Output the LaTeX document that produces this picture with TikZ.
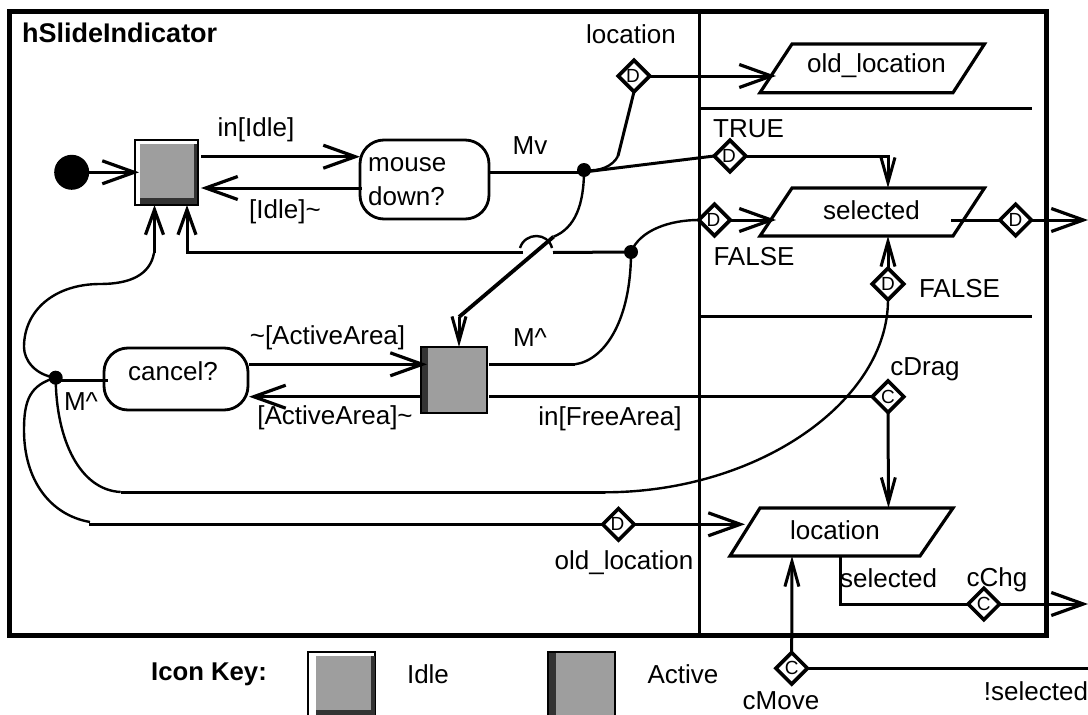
\documentclass[tikz,border=0pt]{standalone}
\usepackage{fontspec}
\setmainfont{Liberation Sans}
\usetikzlibrary{arrows.meta,shapes.geometric}
\definecolor{boxgray}{HTML}{9E9E9E}
\definecolor{boxdark}{HTML}{333333}
\tikzset{
  wire/.style={line width=3pt,line cap=butt,line join=miter},
  thin wire/.style={line width=2.4pt},
  thick wire/.style={line width=3.8pt},
  big head/.style={-{Straight Barb[length=32pt,width=23pt,line width=3.2pt]}},
  mid head/.style={-{Straight Barb[length=25pt,width=18pt,line width=3.2pt]}},
  narrow head/.style={-{Straight Barb[length=25pt,width=14pt,line width=3pt]}},
  lab/.style={inner sep=0pt,font=\fontsize{26}{30}\selectfont},
  boldlab/.style={inner sep=0pt,font=\bfseries\fontsize{25.7}{30}\selectfont},
  titlelab/.style={inner sep=0pt,font=\bfseries\fontsize{27}{30}\selectfont},
  dia/.style={diamond,draw,line width=3.6pt,fill=white,inner sep=0pt,outer sep=0pt,minimum width=31.5pt,minimum height=31.5pt,font=\fontsize{19}{20}\selectfont},
  diaD/.style={dia,text width=16pt,align=left},
  junction/.style={circle,fill=black,inner sep=0pt,minimum size=14pt},
  decision/.style={draw,line width=2.8pt,rounded corners=24pt,fill=white,inner sep=0pt,outer sep=0pt},
  statebox/.style={draw,line width=2.8pt,fill=white,inner sep=0pt,outer sep=0pt},
  para/.style={line width=3.2pt,line join=miter}
}
\begin{document}
\begin{tikzpicture}[x=1pt,y=-1pt]
\clip (0,0) rectangle (1088,715);
% frame
\draw[line width=5pt] (9.5,11.5) rectangle (1046,635);
\draw[wire] (699,11.5) -- (699,635);
\draw[wire] (699,108) -- (1032,108);
\draw[wire] (699,316) -- (1032,316);
% parallelograms
\draw[para] (760,92.7) -- (792,44) -- (984.5,44) -- (953,92.7) -- cycle;
\draw[para] (760,236) -- (792,188) -- (984.5,188) -- (953,236) -- cycle;
\draw[para] (730,556) -- (760,508) -- (953,508) -- (920,556) -- cycle;
\node[lab] (oldloc) at (876.5,66) {old\_location};
\node[lab] (sel) at (871.5,210) {selected};
\node[lab] (loc) at (835,530) {location};
\coordinate (oldlocL) at (776,76);
\coordinate (selL) at (776,220);
\coordinate (selT) at (888,188);
\coordinate (selB) at (888,236);
\coordinate (selR) at (951,220);
\coordinate (locL) at (745,524.3);
\coordinate (locT) at (888.5,508);
\coordinate (locB) at (792,556);
\coordinate (locS) at (840.6,556);
\coordinate (mouseR) at (489,172);
\coordinate (cancelL) at (108,380);
% start and state boxes
\node[circle,fill=black,inner sep=0pt,minimum size=35pt] (start) at (71.7,172.3) {};
\node[statebox,minimum width=63pt,minimum height=65pt,anchor=north west] (idle) at (135,140) {};
\fill[boxdark] (140,198) rectangle (198,205);
\fill[boxdark] (194,144) rectangle (198,205);
\fill[boxgray] (140,144) rectangle (194,198);
\draw[line width=2.4pt] (135,140) rectangle (198,205);
\node[statebox,minimum width=66pt,minimum height=66pt,anchor=north west,fill=boxgray] (active) at (421,347) {};
\fill[boxdark] (422,348) rectangle (428,412);
\draw[line width=2.8pt] (421,347) rectangle (487,413);
\node[decision,minimum width=129pt,minimum height=79pt,anchor=north west] (mouse) at (360,140) {};
\node[decision,minimum width=144pt,minimum height=62pt,anchor=north west] (cancel) at (104,348) {};
\node[lab,anchor=west] (mouset) at (368,165) {mouse};
\node[lab,anchor=west] (downt) at (368,196) {down?};
\node[lab] (cancelt) at (173,371) {cancel?};
% junctions
\node[junction] (jMv) at (584,170) {};
\node[junction] (jF) at (631,252) {};
\node[junction] (jC) at (55.7,377.7) {};
% diamonds
\node[diaD] (dLoc) at (634,76) {D};
\node[diaD] (dTrue) at (730,156) {D};
\node[diaD] (dFalse) at (714.5,220) {D};
\node[dia] (dOut) at (1015.6,220) {D};
\node[dia] (dFalse2) at (888,284) {D};
\node[dia] (cDrag) at (888,396.7) {C};
\node[diaD] (dOld) at (618.5,524.3) {D};
\node[dia] (cChg) at (983.8,604) {C};
\node[dia] (cMove) at (791.7,668.3) {C};
\coordinate (outA) at (1088,220);
\coordinate (outB) at (1088,604);
\coordinate (outC) at (1088,668.3);
% connectors
\draw[wire,big head] (start.east) -- (139,172.3);
\draw[wire,big head] (201,156.7) -- (360,156.7);
\draw[wire,big head] (362,188) -- (201,188);
\draw[wire] (mouseR) -- (mouseR -| jMv);
\draw[thin wire] (jMv.center) .. controls (600,172) and (613,166) .. (618,156);
\draw[wire] (618,156) -- (dLoc.south);
\draw[wire,big head] (dLoc.east) -- (oldlocL);
\draw[wire] (mouseR -| jMv) -- (dTrue.west);
\draw[wire,narrow head] (dTrue.east) -| (selT);
\draw[thin wire] (jMv.center) .. controls (584,205) and (575,228) .. (553.6,236.7);
\draw[thick wire] (553.6,236.7) -- (459,317);
\draw[wire,narrow head] (459,317) -- (459,347);
% return to idle
\draw[wire] (jF.center) -- (553,252.5);
\draw[thin wire] (520,248) .. controls (525,232) and (548,232) .. (552,248);
\draw[wire,mid head] (523,252.5) -- (187,252.5) -- (187,205);
\draw[wire,mid head] (154.5,253) -- (154.5,205);
\draw[thin wire] (154,253) .. controls (150,275) and (130,284) .. (100,284) .. controls (55,284) and (24,310) .. (24,347) .. controls (24,360) and (35,375) .. (jC.center);
% active to right
\draw[wire] (489,364.3) -- (575,364.3);
\draw[thin wire] (575,364.3) .. controls (605,360) and (631,320) .. (jF.center);
\draw[thin wire] (jF.center) .. controls (640,230) and (670,220) .. (dFalse.west);
\draw[wire,big head] (dFalse.east) -- (selL);
\draw[wire] (selR) -- (dOut.west);
\draw[wire,big head] (dOut.east) -- (outA);
\draw[wire,narrow head] (dFalse2.north) -- (selB);
% cancel
\draw[wire] (cancelL -| jC) -- (cancelL);
\draw[wire,big head] (249,364.3) -- (427,364.3);
\draw[wire,big head] (421,396.7) -- (249,396.7);
\draw[wire] (489,396.7) -- (cDrag.west);
\draw[wire,narrow head] (cDrag.south) -- (locT);
% long curves
\draw[thin wire] (jC.center) .. controls (56,440) and (80,490) .. (120.7,492);
\draw[wire] (120.7,492.3) -- (605,492.3);
\draw[thin wire] (605,492.3) .. controls (760,492) and (888,400) .. (dFalse2.south);
\draw[thin wire] (jC.center) .. controls (30,385) and (24,400) .. (24,430) .. controls (24,480) and (50,515) .. (90,522);
\draw[wire] (89,524.3) -- (dOld.west);
\draw[wire,big head] (dOld.east) -- (locL);
% location out
\draw[wire] (locS) |- (cChg.west);
\draw[wire,big head] (cChg.east) -- (outB);
\draw[wire,narrow head] (cMove.north) -- (locB);
\draw[wire] (cMove.east) -- (outC);
% labels
\node[titlelab,anchor=west] (title) at (22,33) {hSlideIndicator};
\node[lab] (lLoc) at (631,34) {location};
\node[lab] (lIn) at (256,130) {in[Idle]};
\node[lab] (lIdle) at (285,212) {[Idle]\textasciitilde};
\node[lab] (lMv) at (530,146) {Mv};
\node[lab] (lTrue) at (748.5,129) {TRUE};
\node[lab] (lF1) at (754,257) {FALSE};
\node[lab] (lF2) at (959.5,289) {FALSE};
\node[lab] (lAA) at (327.5,338) {\textasciitilde[ActiveArea]};
\node[lab] (lAB) at (335,418) {[ActiveArea]\textasciitilde};
\node[lab] (lM1) at (530,338) {M\textasciicircum};
\node[lab] (lM2) at (81,402) {M\textasciicircum};
\node[lab] (lFree) at (610,419) {in[FreeArea]};
\node[lab] (lDrag) at (925,369) {cDrag};
\node[lab] (lOld) at (624,563) {old\_location};
\node[lab] (lSel) at (888.6,578) {selected};
\node[lab] (lChg) at (997,580) {cChg};
\node[lab] (lMove) at (781,701) {cMove};
\node[lab] (lNot) at (1036,691) {!selected};
% key
\node[boldlab] (lKey) at (209,674) {Icon Key:};
\node[lab] (lKI) at (428,674) {Idle};
\node[lab] (lKA) at (683,674) {Active};
\node[statebox,minimum width=67pt,minimum height=70pt,anchor=north west] (keyIdle) at (308,652) {};
\fill[boxdark] (316,710) rectangle (375,716);
\fill[boxdark] (371,656) rectangle (375,716);
\fill[boxgray] (316,656) rectangle (371,710);
\node[statebox,minimum width=67pt,minimum height=70pt,anchor=north west,fill=boxgray] (keyActive) at (548,652) {};
\fill[boxdark] (549,653) rectangle (555.5,716);
\draw[line width=2.8pt] (548,652) -- (615,652) -- (615,716);
\end{tikzpicture}
\end{document}
